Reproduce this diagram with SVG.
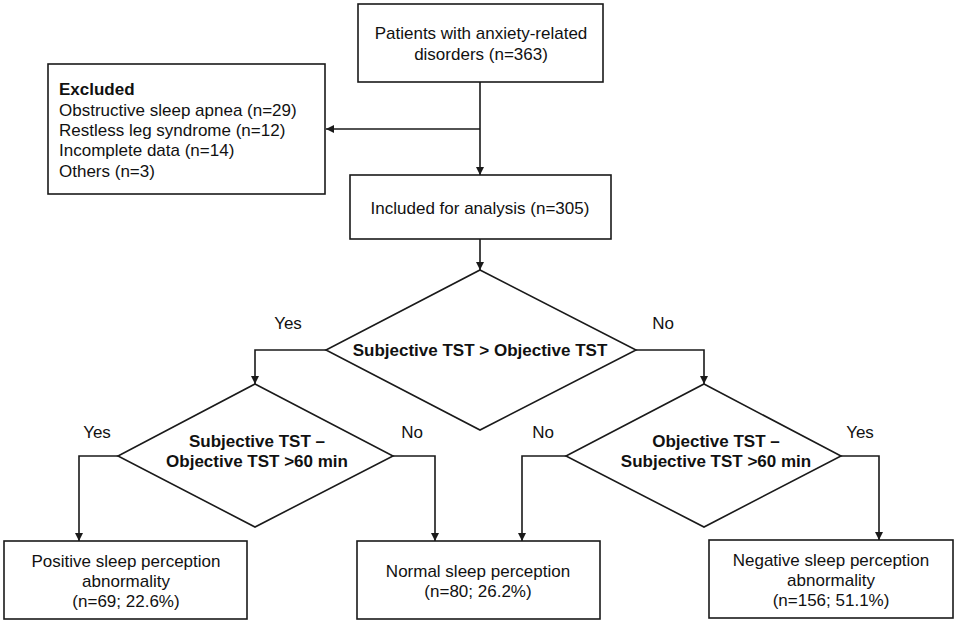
<svg xmlns="http://www.w3.org/2000/svg" width="957" height="624" viewBox="0 0 957 624">
<defs>
<marker id="ah" viewBox="0 0 10 10" refX="10" refY="5" markerWidth="8" markerHeight="8" markerUnits="userSpaceOnUse" orient="auto">
<path d="M0,0 L10,5 L0,10 z" fill="#1a1a1a"/>
</marker>
<style>
.box{fill:#fff;stroke:#1a1a1a;stroke-width:1.6}
.t{font-family:"Liberation Sans",Arial,sans-serif;font-size:17px;fill:#111}
.b{font-weight:bold}
.m{text-anchor:middle}
.c{fill:none;stroke:#1a1a1a;stroke-width:1.6;marker-end:url(#ah)}
</style>
</defs>
<rect width="957" height="624" fill="#fff"/>
<g id="connectors">
<path class="c" d="M480,82 V175"/>
<path class="c" d="M480,129 H326"/>
<path class="c" d="M480,239 V270"/>
<path class="c" d="M326,350 H255 V384"/>
<path class="c" d="M636,350 H704 V384"/>
<path class="c" d="M118,456 H79 V541"/>
<path class="c" d="M393,456 H435 V541"/>
<path class="c" d="M566,456 H522 V541"/>
<path class="c" d="M841,456 H879 V540"/>
<text class="t m" x="288" y="329">Yes</text>
<text class="t m" x="663" y="329">No</text>
<text class="t m" x="97" y="438">Yes</text>
<text class="t m" x="412" y="438">No</text>
<text class="t m" x="543" y="438">No</text>
<text class="t m" x="860" y="438">Yes</text>
</g>
<g id="patients">
<rect class="box" x="358" y="4" width="245" height="78"/>
<text class="t m" x="481" y="39">Patients with anxiety-related</text>
<text class="t m" x="481" y="60">disorders (n=363)</text>
</g>
<g id="excluded">
<rect class="box" x="48" y="64" width="277" height="130"/>
<text class="t b" x="59" y="95">Excluded</text>
<text class="t" x="59" y="116">Obstructive sleep apnea (n=29)</text>
<text class="t" x="59" y="136">Restless leg syndrome (n=12)</text>
<text class="t" x="59" y="156">Incomplete data (n=14)</text>
<text class="t" x="59" y="177">Others (n=3)</text>
</g>
<g id="included">
<rect class="box" x="350" y="175" width="261" height="64"/>
<text class="t m" x="480" y="214">Included for analysis (n=305)</text>
</g>
<g id="decision1">
<polygon class="box" points="480,270 636,350 480,430 326,350"/>
<text class="t b m" x="480" y="356">Subjective TST &gt; Objective TST</text>
</g>
<g id="decision2">
<polygon class="box" points="255,384 393,456 255,527 118,456"/>
<text class="t b m" x="257" y="447">Subjective TST –</text>
<text class="t b m" x="257" y="467">Objective TST &gt;60 min</text>
</g>
<g id="decision3">
<polygon class="box" points="704,384 841,456 704,527 566,456"/>
<text class="t b m" x="716" y="447">Objective TST –</text>
<text class="t b m" x="716" y="467">Subjective TST &gt;60 min</text>
</g>
<g id="positive">
<rect class="box" x="4" y="541" width="243" height="78"/>
<text class="t m" x="126" y="567">Positive sleep perception</text>
<text class="t m" x="126" y="587">abnormality</text>
<text class="t m" x="126" y="607">(n=69; 22.6%)</text>
</g>
<g id="normal">
<rect class="box" x="357" y="541" width="243" height="78"/>
<text class="t m" x="478" y="577">Normal sleep perception</text>
<text class="t m" x="478" y="597">(n=80; 26.2%)</text>
</g>
<g id="negative">
<rect class="box" x="709" y="540" width="244" height="78"/>
<text class="t m" x="831" y="566">Negative sleep perception</text>
<text class="t m" x="831" y="586">abnormality</text>
<text class="t m" x="831" y="606">(n=156; 51.1%)</text>
</g>
</svg>
